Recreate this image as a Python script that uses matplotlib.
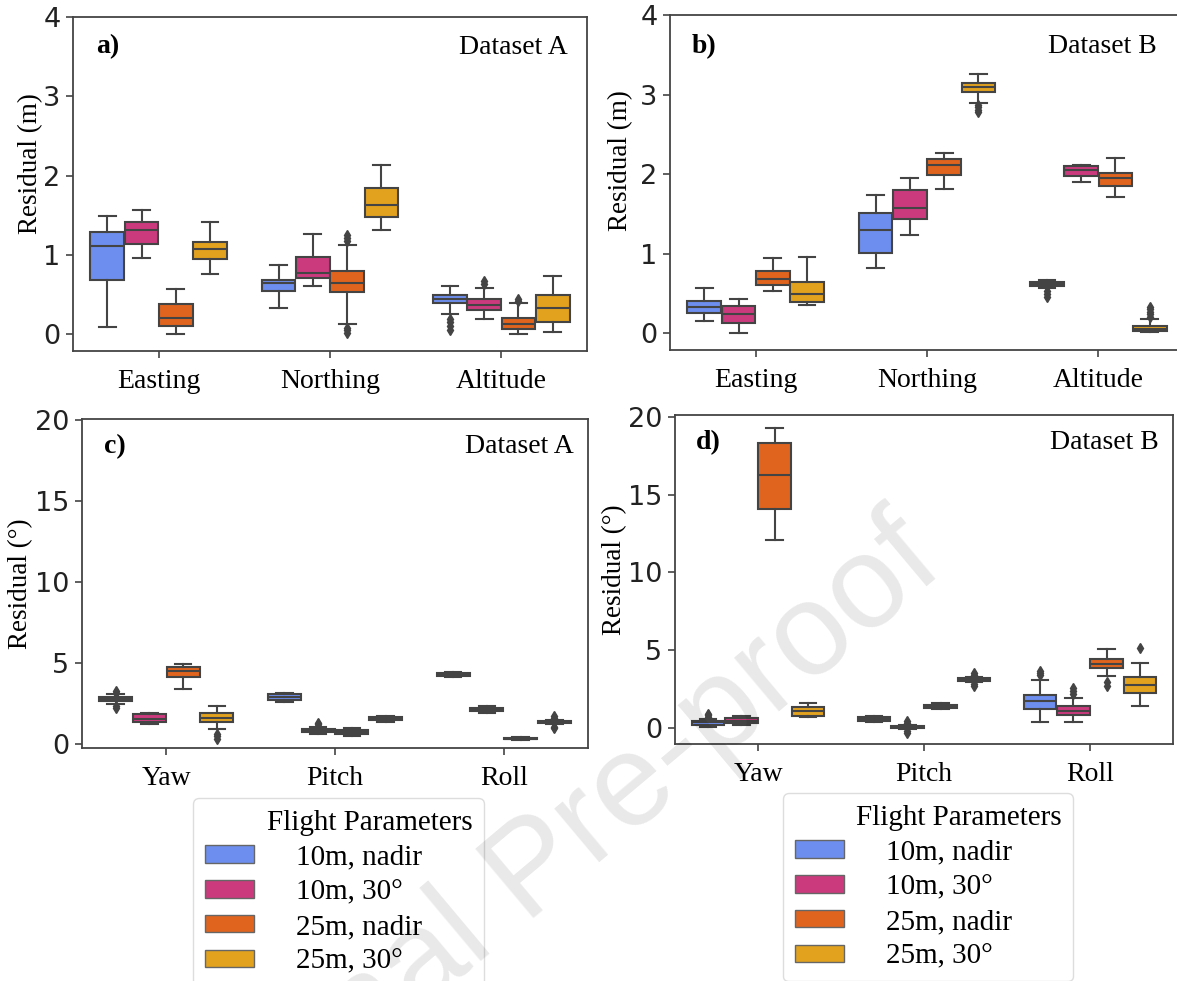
import matplotlib
matplotlib.use("Agg")
import matplotlib.pyplot as plt
from matplotlib.patches import Patch

# ---------------- data ----------------
CATS_POS = ["Easting", "Northing", "Altitude"]
CATS_ANG = ["Yaw", "Pitch", "Roll"]
HUES = ["10m, nadir", "10m, 30°", "25m, nadir", "25m, 30°"]
COLORS = ["#6D8EEE", "#CB3A7D", "#E0641E", "#E2A21E"]

# Panel a (Dataset A, position residuals, m): rows = categories, cols = hues
A_POS_LO = [[0.09, 0.96, 0.01, 0.76], [0.33, 0.61, 0.13, 1.32], [0.26, 0.19, 0.01, 0.03]]
A_POS_Q1 = [[0.69, 1.14, 0.11, 0.95], [0.54, 0.71, 0.53, 1.48], [0.39, 0.31, 0.07, 0.16]]
A_POS_MED = [[1.11, 1.31, 0.20, 1.07], [0.65, 0.77, 0.65, 1.63], [0.45, 0.37, 0.13, 0.33]]
A_POS_Q3 = [[1.29, 1.42, 0.38, 1.17], [0.69, 0.97, 0.80, 1.85], [0.49, 0.44, 0.20, 0.50]]
A_POS_HI = [[1.49, 1.57, 0.57, 1.42], [0.87, 1.27, 1.12, 2.13], [0.61, 0.59, 0.39, 0.73]]
A_POS_FL = [[[], [], [], []],
            [[], [], [0.02, 0.05, 0.08, 1.18, 1.22, 1.25], []],
            [[0.05, 0.10, 0.15, 0.19], [0.64, 0.67], [0.42, 0.45], []]]

# Panel b (Dataset B, position residuals, m)
B_POS_LO = [[0.16, 0.00, 0.53, 0.36], [0.82, 1.24, 1.81, 2.89], [0.57, 1.90, 1.71, 0.01]]
B_POS_Q1 = [[0.26, 0.13, 0.61, 0.39], [1.01, 1.44, 1.99, 3.03], [0.59, 1.98, 1.85, 0.03]]
B_POS_MED = [[0.33, 0.24, 0.68, 0.49], [1.30, 1.58, 2.12, 3.09], [0.62, 2.05, 1.95, 0.05]]
B_POS_Q3 = [[0.41, 0.34, 0.78, 0.64], [1.51, 1.80, 2.19, 3.15], [0.65, 2.10, 2.02, 0.09]]
B_POS_HI = [[0.57, 0.43, 0.94, 0.96], [1.74, 1.95, 2.27, 3.26], [0.67, 2.12, 2.20, 0.18]]
B_POS_FL = [[[], [], [], []],
            [[], [], [], [2.78, 2.81, 2.84, 2.87]],
            [[0.45, 0.49, 0.53], [], [], [0.21, 0.24, 0.27, 0.30, 0.33]]]

# Panel c (Dataset A, angular residuals, deg)
A_ANG_LO = [[2.45, 1.20, 3.40, 0.93], [2.60, 0.60, 0.50, 1.35], [4.10, 1.90, 0.22, 1.20]]
A_ANG_Q1 = [[2.62, 1.35, 4.14, 1.36], [2.72, 0.70, 0.60, 1.45], [4.18, 2.00, 0.26, 1.28]]
A_ANG_MED = [[2.75, 1.55, 4.50, 1.60], [2.90, 0.82, 0.74, 1.55], [4.27, 2.12, 0.30, 1.34]]
A_ANG_Q3 = [[2.88, 1.80, 4.75, 1.91], [3.05, 0.92, 0.86, 1.65], [4.35, 2.22, 0.34, 1.40]]
A_ANG_HI = [[3.05, 1.90, 4.94, 2.35], [3.15, 1.00, 0.95, 1.72], [4.42, 2.30, 0.38, 1.48]]
A_ANG_FL = [[[2.20, 2.30, 3.15, 3.25], [], [], [0.30, 0.45, 0.60]],
            [[], [1.10, 1.20, 1.30], [], []],
            [[], [], [], [0.95, 1.05, 1.60, 1.72]]]

# Panel d (Dataset B, angular residuals, deg)
B_ANG_LO = [[0.10, 0.25, 12.07, 0.72], [0.42, -0.05, 1.22, 2.95], [0.40, 0.40, 3.37, 1.41]]
B_ANG_Q1 = [[0.25, 0.35, 14.10, 0.80], [0.48, 0.02, 1.30, 3.05], [1.25, 0.84, 3.90, 2.26]]
B_ANG_MED = [[0.38, 0.50, 16.27, 1.10], [0.60, 0.10, 1.42, 3.15], [1.73, 1.14, 4.16, 2.79]]
B_ANG_Q3 = [[0.50, 0.68, 18.30, 1.35], [0.72, 0.18, 1.52, 3.25], [2.15, 1.41, 4.43, 3.30]]
B_ANG_HI = [[0.62, 0.82, 19.25, 1.60], [0.78, 0.25, 1.60, 3.32], [3.10, 1.94, 5.12, 4.22]]
B_ANG_FL = [[[0.70, 0.85, 0.95], [], [], []],
            [[], [-0.30, -0.15, 0.35, 0.50], [], [2.75, 2.85, 3.45, 3.55]],
            [[3.40, 3.55, 3.65], [2.20, 2.40, 2.60], [2.75, 2.95], [5.15]]]

# ---------------- figure ----------------
W, H = 1177, 981
fig = plt.figure(figsize=(W / 100, H / 100), dpi=100)

SERIF = "Liberation Serif"
LINE = "#444444"


def px_axes(left, top, right, bottom):
    return fig.add_axes([left / W, 1 - bottom / H, (right - left) / W, (bottom - top) / H])


def draw_panel(ax, cats, lo, q1, med, q3, hi, fl, ylim, yticks, ylabel, labxy,
               tag, dset, tagx, dsx, ty):
    offsets = [-0.3, -0.1, 0.1, 0.3]
    for h in range(len(HUES)):
        stats = []
        pos = []
        for c in range(len(cats)):
            stats.append(dict(whislo=lo[c][h], q1=q1[c][h], med=med[c][h],
                              q3=q3[c][h], whishi=hi[c][h], fliers=fl[c][h]))
            pos.append(c + offsets[h])
        ax.bxp(stats, positions=pos, widths=0.196, patch_artist=True, showfliers=True,
               boxprops=dict(facecolor=COLORS[h], edgecolor=LINE, linewidth=1.5),
               medianprops=dict(color=LINE, linewidth=1.5),
               whiskerprops=dict(color=LINE, linewidth=1.5),
               capprops=dict(color=LINE, linewidth=1.5),
               flierprops=dict(marker="d", markersize=5, markerfacecolor=LINE,
                               markeredgecolor=LINE, linestyle="none"),
               manage_ticks=False)
    ax.set_xlim(-0.5, len(cats) - 0.5)
    ax.set_ylim(*ylim)
    ax.set_xticks(range(len(cats)))
    ax.set_xticklabels(cats, family=SERIF, fontsize=20)
    ax.set_yticks(yticks)
    ax.set_yticklabels([str(t) for t in yticks], family="DejaVu Sans", fontsize=19.5,
                       color="#222222")
    ax.tick_params(axis="x", length=5, width=1.2, color=LINE, pad=8)
    ax.tick_params(axis="y", length=5, width=1.2, color=LINE, pad=4)
    ax.set_ylabel(ylabel, family=SERIF, fontsize=19.5)
    ax.yaxis.set_label_coords(*labxy)
    for s in ax.spines.values():
        s.set_color(LINE)
        s.set_linewidth(1.3)
    ax.text(tagx, ty, tag, transform=ax.transAxes, family=SERIF, fontsize=20,
            fontweight="bold", ha="left", va="center")
    ax.text(dsx, ty, dset, transform=ax.transAxes, family=SERIF, fontsize=20,
            ha="right", va="center")


ax_a = px_axes(73, 17, 587, 351)
draw_panel(ax_a, CATS_POS, A_POS_LO, A_POS_Q1, A_POS_MED, A_POS_Q3, A_POS_HI, A_POS_FL,
           (-0.21, 4.0), [0, 1, 2, 3, 4], "Residual (m)", (-0.058, 0.56),
           "a)", "Dataset A", 0.045, 0.962, 0.91)

ax_b = px_axes(670, 15, 1184, 350)
draw_panel(ax_b, CATS_POS, B_POS_LO, B_POS_Q1, B_POS_MED, B_POS_Q3, B_POS_HI, B_POS_FL,
           (-0.21, 4.0), [0, 1, 2, 3, 4], "Residual (m)", (-0.072, 0.565),
           "b)", "Dataset B", 0.043, 0.947, 0.905)

ax_c = px_axes(82, 419, 588, 748)
draw_panel(ax_c, CATS_ANG, A_ANG_LO, A_ANG_Q1, A_ANG_MED, A_ANG_Q3, A_ANG_HI, A_ANG_FL,
           (-0.27, 20.05), [0, 5, 10, 15, 20], "Residual (°)", (-0.096, 0.50),
           "c)", "Dataset A", 0.044, 0.972, 0.915)

ax_d = px_axes(675, 415, 1173, 744)
draw_panel(ax_d, CATS_ANG, B_ANG_LO, B_ANG_Q1, B_ANG_MED, B_ANG_Q3, B_ANG_HI, B_ANG_FL,
           (-1.0, 20.1), [0, 5, 10, 15, 20], "Residual (°)", (-0.097, 0.53),
           "d)", "Dataset B", 0.042, 0.972, 0.915)

# legends
handles = [Patch(facecolor=c, edgecolor="#666666", linewidth=1.0) for c in COLORS]
for (lx, ly, lw, lh) in [(193, 798, 291, 182), (783, 793, 290, 184)]:
    fig.legend(handles, HUES, loc="upper left",
               bbox_to_anchor=(lx / W, 1 - (ly + lh) / H, lw / W, lh / H),
               mode="expand", alignment="right",
               title="Flight Parameters", prop=dict(family=SERIF, size=21),
               title_fontproperties=dict(family=SERIF, size=21),
               handlelength=1.68, handleheight=0.55, handletextpad=1.45,
               labelspacing=0.3, borderpad=0.4, fancybox=True, framealpha=1,
               edgecolor="#dddddd", borderaxespad=0)

# watermark
fig.text(0.454, 0.111, "Journal Pre-proof", rotation=40, fontsize=95, color="black",
         alpha=0.09, ha="center", va="center", family="Liberation Sans", zorder=20)

fig.savefig("out.png", dpi=100)
